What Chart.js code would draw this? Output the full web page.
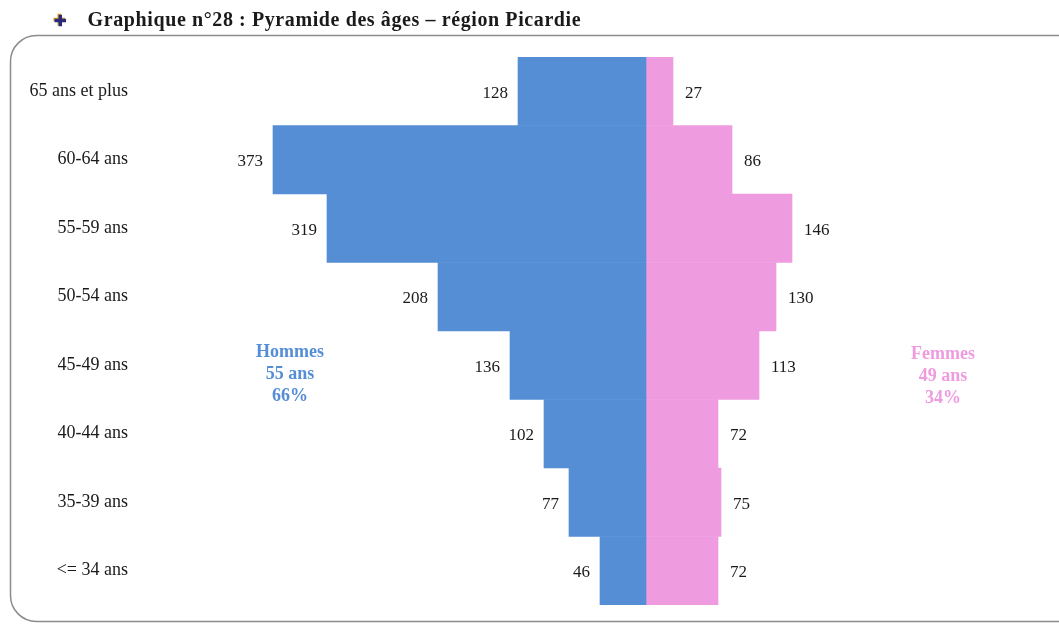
<!DOCTYPE html>
<html lang="fr">
<head>
<meta charset="utf-8">
<title>Pyramide des âges – région Picardie</title>
<script src="https://cdn.jsdelivr.net/npm/chart.js@4.4.1/dist/chart.umd.min.js"></script>
<style>
  html, body { margin: 0; padding: 0; background: #fff; }
  #wrap { position: relative; width: 1059px; height: 624px; overflow: hidden; }
  #titre {
    position: absolute; left: 54px; top: 8px;
    font: bold 20px "Liberation Serif", "DejaVu Serif", serif; color: #1a1a1a;
    letter-spacing: 0.6px; white-space: nowrap;
  }
  #titre .puce { color: #2a2a7a; margin-right: 20px; font-size: 15px; text-shadow: -1px -1px 0 #e8a020; }
  #chart { position: absolute; left: 0; top: 0; }
</style>
</head>
<body>
<div id="wrap">
  <canvas id="chart" width="1059" height="624"></canvas>
  <div id="titre"><span class="puce">✚</span>Graphique n°28 : Pyramide des âges – région Picardie</div>
</div>
<script>
// Tranches d'âge, du haut vers le bas
const tranches = ['65 ans et plus', '60-64 ans', '55-59 ans', '50-54 ans', '45-49 ans', '40-44 ans', '35-39 ans', '<= 34 ans'];
const hommes = [128, 373, 319, 208, 136, 102, 77, 46];
const femmes = [27, 86, 146, 130, 113, 72, 75, 72];
const legendeHommes = ['Hommes', '55 ans', '66%'];
const legendeFemmes = ['Femmes', '49 ans', '34%'];

const BLEU = '#558ed5';
const ROSE = '#ef9bdf';
const SERIF = '"Liberation Serif", "DejaVu Serif", serif';

// Cadre arrondi autour du graphique
const cadre = {
  id: 'cadre',
  beforeDraw(chart) {
    const ctx = chart.ctx;
    ctx.save();
    ctx.strokeStyle = '#8c8c8c';
    ctx.lineWidth = 1.5;
    ctx.beginPath();
    ctx.roundRect(10.5, 35.5, 1080, 586, 26);
    ctx.stroke();
    ctx.restore();
  }
};

// Valeurs au bout des barres + textes Hommes / Femmes
const etiquettes = {
  id: 'etiquettes',
  afterDatasetsDraw(chart) {
    const ctx = chart.ctx;
    const x = chart.scales.x;
    ctx.save();
    ctx.font = '17px ' + SERIF;
    ctx.fillStyle = '#1a1a1a';
    ctx.textBaseline = 'middle';
    chart.getDatasetMeta(0).data.forEach((bar, i) => {
      ctx.textAlign = 'right';
      ctx.fillText(String(hommes[i]), bar.x - 10, bar.y + 2);
    });
    chart.getDatasetMeta(1).data.forEach((bar, i) => {
      ctx.textAlign = 'left';
      ctx.fillText(String(femmes[i]), bar.x + 12, bar.y + 2);
    });

    ctx.font = 'bold 18px ' + SERIF;
    ctx.textAlign = 'center';
    const yMid = chart.scales.y.getPixelForValue(4);
    ctx.fillStyle = BLEU;
    legendeHommes.forEach((t, k) => ctx.fillText(t, x.getPixelForValue(-356), yMid - 13 + k * 22));
    ctx.fillStyle = ROSE;
    legendeFemmes.forEach((t, k) => ctx.fillText(t, x.getPixelForValue(297), yMid - 11 + k * 22));
    ctx.restore();
  }
};

new Chart(document.getElementById('chart'), {
  type: 'bar',
  data: {
    labels: tranches,
    datasets: [
      { label: 'Hommes', data: hommes.map(v => -v), backgroundColor: BLEU },
      { label: 'Femmes', data: femmes, backgroundColor: ROSE }
    ]
  },
  options: {
    indexAxis: 'y',
    responsive: false,
    animation: false,
    layout: { padding: { top: 57, bottom: 19, left: 0, right: 13 } },
    datasets: { bar: { barPercentage: 1, categoryPercentage: 1, borderWidth: 0 } },
    scales: {
      x: {
        stacked: true,
        min: -500,
        max: 400,
        display: false
      },
      y: {
        stacked: true,
        grid: { display: false, drawTicks: false },
        border: { display: false },
        afterFit(axis) {
          axis.width = 146;
          axis.paddingTop = 0;
          axis.paddingBottom = 0;
        },
        ticks: {
          padding: 18,
          color: '#1a1a1a',
          font: { family: SERIF, size: 18 }
        }
      }
    },
    plugins: {
      legend: { display: false },
      tooltip: { enabled: false }
    }
  },
  plugins: [cadre, etiquettes]
});
</script>
</body>
</html>
